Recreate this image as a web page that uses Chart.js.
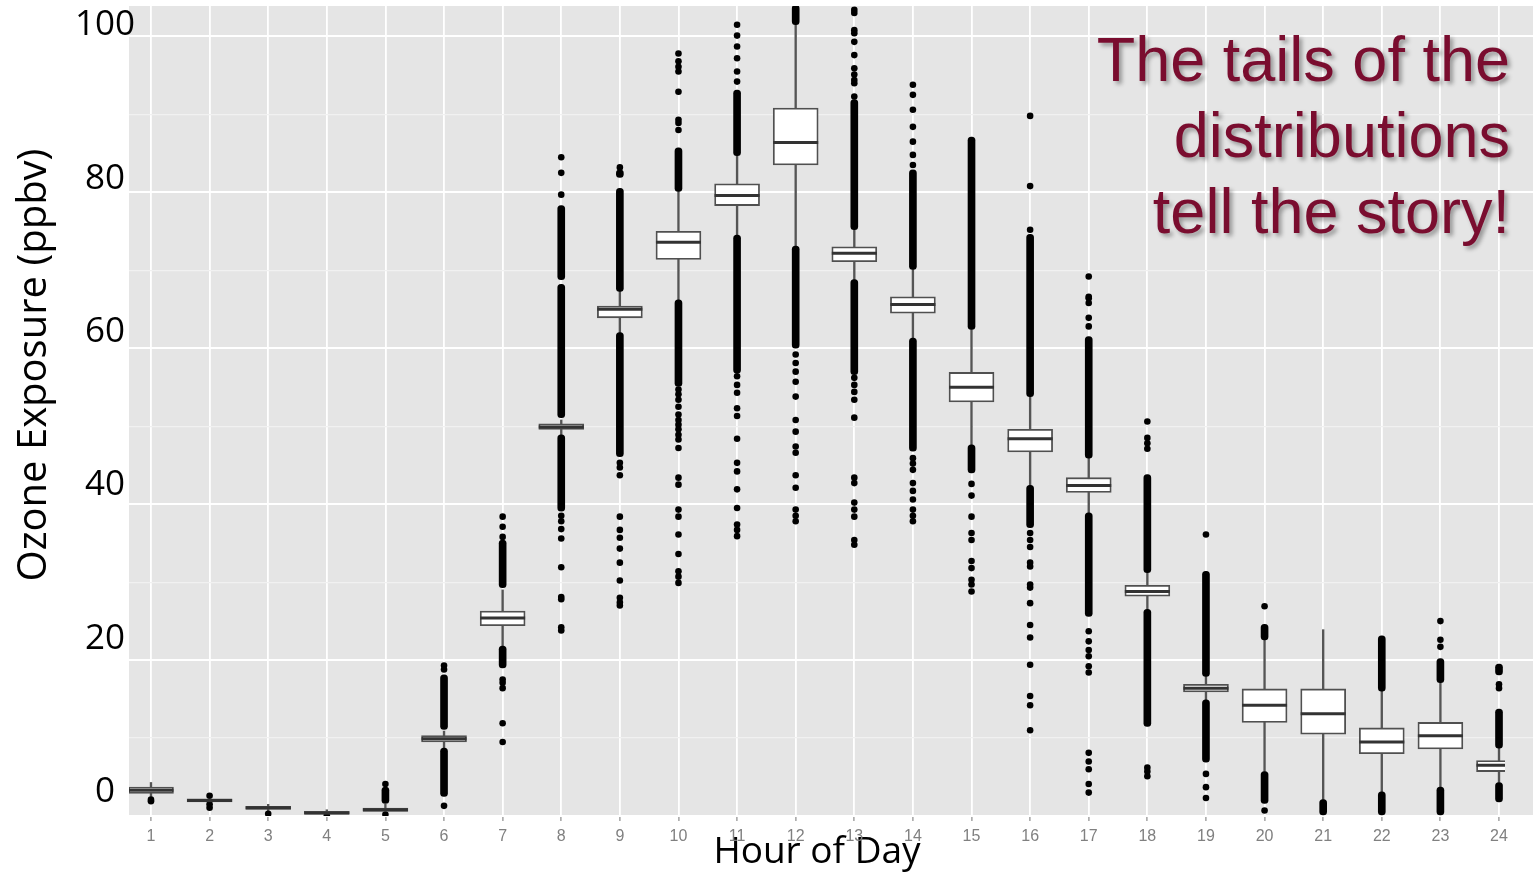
<!DOCTYPE html>
<html>
<head>
<meta charset="utf-8">
<script src="https://cdn.jsdelivr.net/npm/chart.js@4"></script>
<style>
  html, body { margin: 0; padding: 0; background: #fff; }
  #wrap { position: relative; width: 1533px; height: 879px; overflow: hidden; }
  #note {
    position: absolute; right: 23px; top: 21px;
    font: 63px/76px "Liberation Sans", Arial, sans-serif;
    color: #7a0d2f; text-align: right; white-space: nowrap;
    text-shadow: 3px 3px 4px rgba(0, 0, 0, 0.35);
  }
</style>
</head>
<body>
<div id="wrap">
  <canvas id="c" width="1533" height="879"></canvas>
  <div id="note">The tails of the<br>distributions<br>tell the story!</div>
</div>
<script>
const HOURS = [1, 2, 3, 4, 5, 6, 7, 8, 9, 10, 11, 12, 13, 14, 15, 16, 17, 18, 19, 20, 21, 22, 23, 24];
const Y_LABELS = [0, 20, 40, 60, 80, 100];
const GRID_VALUES = [0, 10, 20, 30, 40, 50, 60, 70, 80, 90, 100];

// box statistics per hour (ppbv)
const Q1 = [2.9, 1.8, 0.85, 0.25, 0.6, 9.5, 24.4, 49.6, 63.9, 71.4, 78.3, 83.5, 71.1, 64.5, 53.1, 46.7, 41.5, 28.2, 15.9, 12.0, 10.5, 8.0, 8.6, 5.7];
const MEDIAN = [3.3, 2.0, 1.05, 0.4, 0.8, 9.9, 25.4, 49.9, 65.0, 73.6, 79.6, 86.4, 72.2, 65.6, 55.0, 48.4, 42.4, 28.8, 16.4, 14.2, 13.1, 9.5, 10.3, 6.5];
const Q3 = [3.7, 2.2, 1.25, 0.6, 1.0, 10.3, 26.3, 50.3, 65.4, 75.0, 81.1, 90.8, 73.0, 66.6, 56.9, 49.6, 43.4, 29.6, 16.9, 16.3, 16.3, 11.3, 12.0, 7.1];
const WHISKER_LO = [2.5, 1.6, 0.6, 0.15, 0.3, 8.7, 21.8, 48.9, 62.0, 66.2, 74.5, 73.1, 68.8, 61.3, 47.6, 42.4, 38.9, 26.5, 14.9, 5.7, 2.1, 3.1, 3.7, 4.3];
const WHISKER_HI = [4.3, 2.5, 1.5, 0.8, 1.5, 10.9, 29.0, 50.8, 67.3, 80.1, 84.7, 101.5, 75.2, 70.1, 62.4, 53.8, 45.9, 31.2, 17.9, 22.6, 23.9, 16.0, 17.1, 8.7];

// runs of outliers so dense they merge into a solid column: [hour, from, to]
const DENSE_TAILS = [
  [5, 1.6, 3.7],
  [6, 11.1, 18.1], [6, 2.5, 8.7],
  [7, 29.3, 35.4], [7, 19.0, 21.8],
  [8, 51.1, 68.2], [8, 68.8, 78.3], [8, 39.1, 48.9],
  [9, 67.3, 80.5], [9, 81.9, 82.9], [9, 46.1, 62.0],
  [10, 80.1, 85.7], [10, 55.1, 66.2],
  [11, 84.7, 93.1], [11, 56.8, 74.5],
  [12, 101.5, 104], [12, 60.0, 73.1],
  [13, 75.2, 91.9], [13, 56.6, 68.8],
  [14, 70.1, 82.9], [14, 46.8, 61.3],
  [15, 62.4, 87.1], [15, 44.0, 47.6],
  [16, 53.8, 74.6], [16, 37.0, 42.4],
  [17, 45.9, 61.5], [17, 25.6, 38.9],
  [18, 31.2, 43.8], [18, 11.5, 26.5],
  [19, 17.9, 31.4], [19, 6.9, 14.9],
  [20, 22.6, 24.6], [20, 1.6, 5.7],
  [21, 0, 2.1],
  [22, 16.0, 23.1], [22, 0, 3.1],
  [23, 17.1, 20.2], [23, 0, 3.7],
  [24, 18.1, 19.5], [24, 8.7, 13.7], [24, 1.8, 4.3],
];

// single outlier points, one list per hour
const OUTLIERS = [
  [1.9, 2.1],
  [2.6, 1.5, 1.05],
  [0.28],
  [0.05],
  [4.1, 0.2],
  [19.3, 18.8, 1.3],
  [38.4, 37.1, 35.8, 17.5, 17.1, 16.4, 11.9, 9.5],
  [84.5, 82.5, 79.7, 38.5, 37.8, 36.8, 35.6, 31.9, 28.1, 27.8, 24.2, 23.8],
  [83.2, 45.3, 44.7, 43.7, 38.4, 36.7, 35.7, 34.3, 32.5, 30.2, 28.0, 27.4, 27.0],
  [88.0, 88.9, 89.3, 92.9, 95.5, 96.1, 96.8, 97.8, 54.7, 54.1, 53.4, 52.5, 51.5, 50.8, 50.2, 49.6, 48.9, 48.3, 47.2, 43.4, 42.5, 39.3, 38.4, 36.1, 33.6, 31.4, 30.7, 29.9],
  [94.2, 95.5, 97.2, 98.7, 100.1, 101.5, 56.4, 55.3, 54.3, 52.3, 51.3, 48.4, 45.3, 44.2, 41.9, 39.5, 37.4, 36.7, 35.9],
  [59.2, 58.1, 57.0, 55.7, 53.8, 50.8, 49.3, 47.4, 46.6, 43.7, 42.1, 39.3, 38.5, 37.8],
  [92.3, 94.0, 94.4, 95.1, 95.9, 97.6, 99.3, 100.4, 100.8, 103.0, 103.4, 56.2, 55.3, 54.4, 53.4, 51.1, 43.4, 42.7, 40.2, 39.3, 38.4, 35.4, 34.8],
  [83.5, 84.8, 86.5, 88.4, 90.6, 92.5, 93.8, 45.9, 45.2, 44.4, 42.7, 41.7, 40.6, 39.3, 38.5, 37.8],
  [42.6, 41.1, 38.4, 36.3, 35.4, 32.7, 31.8, 30.3, 29.7, 28.8],
  [89.8, 80.8, 75.2, 36.3, 35.4, 34.5, 32.5, 32.0, 29.7, 29.3, 27.3, 24.5, 22.9, 19.4, 15.4, 14.2, 11.0],
  [69.2, 66.6, 66.4, 65.8, 63.9, 62.8, 23.7, 22.4, 21.3, 20.5, 19.2, 18.4, 8.1, 7.0, 6.0, 4.1, 3.0],
  [50.6, 48.5, 47.8, 47.1, 6.2, 5.7, 5.1],
  [36.1, 5.4, 3.7, 2.3],
  [26.9, 0.7],
  [],
  [],
  [25.0, 22.6, 21.7],
  [16.9, 16.4],
];

const FONT_LABEL = '"Open Sans", "DejaVu Sans", sans-serif';
const FONT_TICK = '"Liberation Sans", Arial, sans-serif';

Chart.defaults.font.family = FONT_LABEL;

const panelBg = {
  id: "panelBg",
  beforeDraw(chart) {
    const { ctx, chartArea: a } = chart;
    ctx.save();
    ctx.fillStyle = "#e5e5e5";
    ctx.fillRect(a.left, a.top, a.right - a.left, a.bottom - a.top);
    ctx.restore();
  },
};

// the slide's labels sit a bit off the panel: let "100" run into the panel,
// centre the y title higher up and the x title a little left, as in the original
const titleNudge = {
  id: "titleNudge",
  afterLayout(chart) {
    const yl = chart.scales.yl;
    yl.right = 141;
    yl.bottom = 724;
    chart.scales.x.right = 1505;
  },
};

const boxes = HOURS.map((h, i) => ({ x: h, y: [Q1[i], Q3[i]] }));
const whiskers = HOURS.map((h, i) => ({ x: h, y: [WHISKER_LO[i], WHISKER_HI[i]] }));
const medians = HOURS.map((h, i) => ({ x: h, y: MEDIAN[i] }));
const tails = DENSE_TAILS.map(([h, lo, hi]) => ({ x: h, y: [lo, hi] }));
const dots = OUTLIERS.flatMap((vals, i) => vals.map((v) => ({ x: HOURS[i], y: v })));

const major = (c) => c.tick && c.tick.value % 20 === 0;

new Chart(document.getElementById("c"), {
  type: "bar",
  data: {
    datasets: [
      { type: "bar", data: whiskers, backgroundColor: "#555", barThickness: 1.7, grouped: false, order: 5 },
      { type: "bar", data: tails, backgroundColor: "#000", barThickness: 7, borderRadius: 3.5, borderSkipped: false, grouped: false, order: 4 },
      { type: "scatter", data: dots, pointRadius: 3.3, backgroundColor: "#000", borderWidth: 0, order: 3 },
      { type: "bar", data: boxes, backgroundColor: "#fff", borderColor: "#505050", borderWidth: 1.8, borderSkipped: false, barThickness: 45, grouped: false, order: 2 },
      { type: "scatter", data: medians, pointStyle: "line", pointRadius: 22.5, borderColor: "#333", borderWidth: 3, order: 1 },
    ],
  },
  options: {
    responsive: false,
    animation: false,
    events: [],
    layout: { autoPadding: false, padding: { top: 6, left: 0, right: 0, bottom: 0 } },
    plugins: { legend: { display: false }, tooltip: { enabled: false } },
    scales: {
      x: {
        type: "linear", position: "bottom", min: 0.625, max: 24.58, offset: false,
        afterBuildTicks: (s) => { s.ticks = HOURS.map((v) => ({ value: v })); },
        afterFit: (s) => { s.height = 63; s.paddingLeft = 0; s.paddingRight = 0; },
        grid: { color: "#fff", lineWidth: 1.8, offset: false, drawTicks: true, tickLength: 5, tickColor: "#8c8c8c", tickWidth: 1.2 },
        border: { display: false },
        ticks: { color: "#808080", font: { family: FONT_TICK, size: 16 }, padding: 6, maxRotation: 0, autoSkip: false },
        title: { display: true, text: "Hour of Day", color: "#000", font: { size: 37 }, padding: { top: 0, bottom: 4 } },
      },
      y: {
        type: "linear", position: "left", weight: 0, min: 0, max: 103.9,
        afterBuildTicks: (s) => { s.ticks = GRID_VALUES.map((v) => ({ value: v })); },
        afterFit: (s) => { s.width = 0; s.paddingTop = 0; s.paddingBottom = 0; },
        grid: { color: (c) => (major(c) ? "#fff" : "#f1f1f1"), lineWidth: (c) => (major(c) ? 2 : 1.2), drawTicks: false },
        border: { display: false },
        ticks: { display: false },
      },
      yl: {
        type: "linear", position: "left", weight: 1, min: -3.13, max: 102.5,
        afterBuildTicks: (s) => { s.ticks = Y_LABELS.map((v) => ({ value: v })); },
        afterFit: (s) => { s.width = 129; s.paddingTop = 0; s.paddingBottom = 0; },
        grid: { display: false, drawTicks: false },
        border: { display: false },
        ticks: { color: "#000", font: { size: 35 }, crossAlign: "center", padding: 6 },
        title: { display: true, text: "Ozone Exposure (ppbv)", color: "#000", font: { size: 40 }, padding: { top: 11, bottom: 0 } },
      },
    },
  },
  plugins: [panelBg, titleNudge],
});
</script>
</body>
</html>
